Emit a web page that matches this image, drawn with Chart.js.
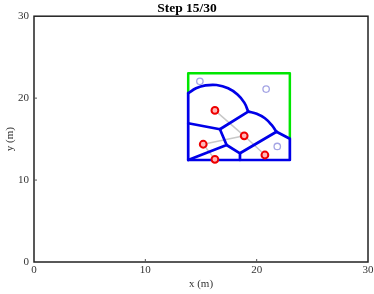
<!DOCTYPE html>
<html lang="en">
<head>
  <meta charset="UTF-8" />
  <title>Step 15/30</title>
  <script src="https://cdn.jsdelivr.net/npm/chart.js"></script>
  <style>
    html, body { margin: 0; padding: 0; background: #fff; }
    #wrap { width: 374px; height: 294px; }
  </style>
</head>
<body>
  <div id="wrap"><canvas id="chart"></canvas></div>
  <script>
    const tickValues = [0, 10, 20, 30];

    // region boundary (green part of the box)
    const boxEdge = [
      { x: 13.85, y: 20.6 }, { x: 13.85, y: 23.05 },
      { x: 22.98, y: 23.05 }, { x: 22.98, y: 15.05 }
    ];

    // curved cell borders
    const arcA = [
      { x: 13.85, y: 20.6 }, { x: 14.55, y: 21.2 }, { x: 15.4, y: 21.55 },
      { x: 16.4, y: 21.6 }, { x: 17.44, y: 21.2 }, { x: 18.28, y: 20.44 },
      { x: 18.89, y: 19.45 }, { x: 19.24, y: 18.36 }
    ];
    const arcB = [
      { x: 19.24, y: 18.36 }, { x: 20.0, y: 18.1 }, { x: 20.74, y: 17.55 },
      { x: 21.34, y: 16.73 }, { x: 21.78, y: 15.9 }
    ];

    // straight cell borders, one polyline each
    const cellEdges = [
      [{ x: 21.78, y: 15.9 }, { x: 22.98, y: 15.05 }, { x: 22.98, y: 12.45 },
       { x: 13.85, y: 12.45 }, { x: 13.85, y: 20.6 }],
      [{ x: 13.85, y: 16.94 }, { x: 16.7, y: 16.2 }, { x: 19.24, y: 18.36 }],
      [{ x: 16.7, y: 16.2 }, { x: 17.3, y: 14.28 }, { x: 13.85, y: 12.45 }],
      [{ x: 17.3, y: 14.28 }, { x: 18.5, y: 13.27 }, { x: 18.5, y: 12.45 }],
      [{ x: 18.5, y: 13.27 }, { x: 21.78, y: 15.9 }]
    ];

    // links between agents
    const links = [
      [{ x: 16.25, y: 18.5 }, { x: 18.88, y: 15.4 }, { x: 20.74, y: 13.06 }],
      [{ x: 15.2, y: 14.37 }, { x: 18.88, y: 15.4 }],
      [{ x: 15.2, y: 14.37 }, { x: 16.25, y: 12.53 }]
    ];

    const agents = [
      { x: 16.25, y: 18.5 }, { x: 18.88, y: 15.4 }, { x: 15.2, y: 14.37 },
      { x: 16.25, y: 12.53 }, { x: 20.74, y: 13.06 }
    ];
    const targets = [
      { x: 14.9, y: 22.05 }, { x: 20.85, y: 21.1 }, { x: 21.85, y: 14.1 }
    ];

    const serif = "'Liberation Serif', 'DejaVu Serif', serif";
    const blue = "#0000e8";

    const frame = {
      id: "frame",
      afterDraw(chart) {
        const { ctx, chartArea: a, scales } = chart;
        ctx.save();
        ctx.strokeStyle = "#222";
        ctx.lineWidth = 1.5;
        ctx.strokeRect(a.left, a.top, a.right - a.left, a.bottom - a.top);
        ctx.lineWidth = 1;
        ctx.strokeStyle = "#555";
        [10, 20].forEach(v => {
          const px = scales.x.getPixelForValue(v);
          const py = scales.y.getPixelForValue(v);
          ctx.beginPath();
          ctx.moveTo(px, a.bottom); ctx.lineTo(px, a.bottom - 3);
          ctx.moveTo(a.left, py); ctx.lineTo(a.left + 3, py);
          ctx.stroke();
        });
        ctx.restore();
      }
    };

    const lineSet = (data, color, width, order, tension) => ({
      data, order, showLine: true, tension: tension || 0,
      borderColor: color, borderWidth: width, pointRadius: 0,
      borderCapStyle: "round", borderJoinStyle: "round"
    });

    const datasets = [
      {
        data: agents, order: 0,
        pointRadius: 3.4, pointBorderWidth: 2,
        pointBorderColor: "#ee0000", pointBackgroundColor: "#ffb8b8"
      },
      {
        data: targets, order: 1,
        pointRadius: 3.2, pointBorderWidth: 1.3,
        pointBorderColor: "#a4a4e4", pointBackgroundColor: "#ffffff"
      },
      lineSet(arcA, blue, 2.7, 2, 0.4),
      lineSet(arcB, blue, 2.7, 2, 0.4),
      ...cellEdges.map(seg => lineSet(seg, blue, 2.7, 2)),
      lineSet(boxEdge, "#00e600", 2.5, 3),
      ...links.map(seg => lineSet(seg, "#c8c8c8", 1.5, 4))
    ];

    new Chart(document.getElementById("chart"), {
      type: "scatter",
      data: { datasets },
      options: {
        responsive: true,
        maintainAspectRatio: false,
        animation: false,
        layout: { padding: { left: 0, right: 0, top: 0, bottom: 0 } },
        plugins: {
          legend: { display: false },
          tooltip: { enabled: false },
          title: {
            display: true, text: "Step 15/30", color: "#000",
            font: { family: serif, size: 13.5, weight: "bold" },
            padding: { top: 0, bottom: 0 }
          }
        },
        scales: {
          x: {
            type: "linear", min: 0, max: 30,
            afterBuildTicks: s => { s.ticks = tickValues.map(v => ({ value: v })); },
            afterFit: s => { s.height = 32; s.paddingRight = 6; },
            grid: { display: false, drawTicks: false }, border: { display: false },
            ticks: { color: "#333", padding: 2, font: { family: serif, size: 11 } },
            title: {
              display: true, text: "x (m)", color: "#333",
              padding: { top: 0, bottom: 3 },
              font: { family: serif, size: 11 }
            }
          },
          y: {
            type: "linear", min: 0, max: 30,
            afterBuildTicks: s => { s.ticks = tickValues.map(v => ({ value: v })); },
            afterFit: s => { s.width = 34; },
            grid: { display: false, drawTicks: false }, border: { display: false },
            ticks: { color: "#333", padding: 5, font: { family: serif, size: 11 } },
            title: {
              display: true, text: "y (m)", color: "#333",
              padding: { top: 4, bottom: 0 },
              font: { family: serif, size: 11 }
            }
          }
        }
      },
      plugins: [frame]
    });
  </script>
</body>
</html>
